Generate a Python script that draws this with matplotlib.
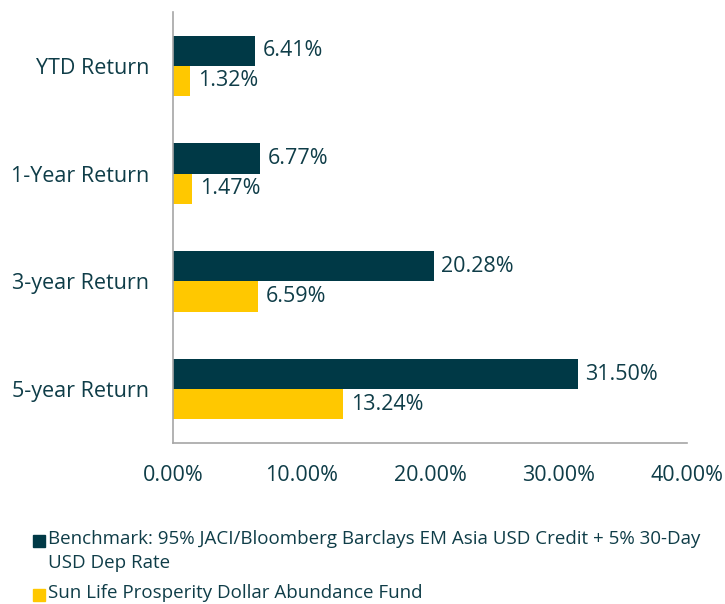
import matplotlib.pyplot as plt
from matplotlib.patches import Rectangle

plt.rcParams['font.family'] = ['Open Sans', 'DejaVu Sans']

categories = ['YTD Return', '1-Year Return', '3-year Return', '5-year Return']
benchmark = [6.41, 6.77, 20.28, 31.50]
fund = [1.32, 1.47, 6.59, 13.24]
ticks = [0, 10, 20, 30, 40]
legend_labels = ['Benchmark: 95% JACI/Bloomberg Barclays EM Asia USD Credit + 5% 30-Day\nUSD Dep Rate',
                 'Sun Life Prosperity Dollar Abundance Fund']

dark = '#003946'
yellow = '#ffc800'
text_col = '#0f3d48'

fig = plt.figure(figsize=(7.25, 6.04), dpi=100)
ax = fig.add_axes([0.2386, 0.2666, 0.709, 0.7135])

h = 0.28
y = list(range(len(categories)))
ax.barh([i - h / 2 for i in y], benchmark, height=h, color=dark)
ax.barh([i + h / 2 for i in y], fund, height=h, color=yellow)

for i in y:
    ax.text(benchmark[i] + 0.6, i - h / 2, f'{benchmark[i]:.2f}%', va='center', ha='left',
            fontsize=15.5, color=text_col)
    ax.text(fund[i] + 0.6, i + h / 2, f'{fund[i]:.2f}%', va='center', ha='left',
            fontsize=15.5, color=text_col)

ax.set_ylim(len(categories) - 0.5, -0.5)
ax.set_xlim(0, 40)
ax.set_yticks(y)
ax.set_yticklabels(categories, fontsize=15.5, color=text_col)
ax.set_xticks(ticks)
ax.set_xticklabels([f'{t:.2f}%' for t in ticks], fontsize=15.5, color=text_col)
ax.tick_params(length=0)
ax.tick_params(axis='x', pad=16)
ax.tick_params(axis='y', pad=17)
for s in ['top', 'right']:
    ax.spines[s].set_visible(False)
for s in ['left', 'bottom']:
    ax.spines[s].set_color('#a6a6a6')
    ax.spines[s].set_linewidth(1.2)

# legend drawn by hand
W, H = 725, 604
for lab, col, yc in [(legend_labels[0], dark, 541), (legend_labels[1], yellow, 595)]:
    fig.patches.append(Rectangle((33 / W, 1 - (yc + 6) / H), 12 / W, 12 / H,
                                 transform=fig.transFigure, color=col))
    fig.text(48 / W, 1 - (yc - 11) / H, lab, fontsize=13.5, color=text_col,
             va='top', ha='left', linespacing=1.4)

fig.savefig('out.png', dpi=100)
